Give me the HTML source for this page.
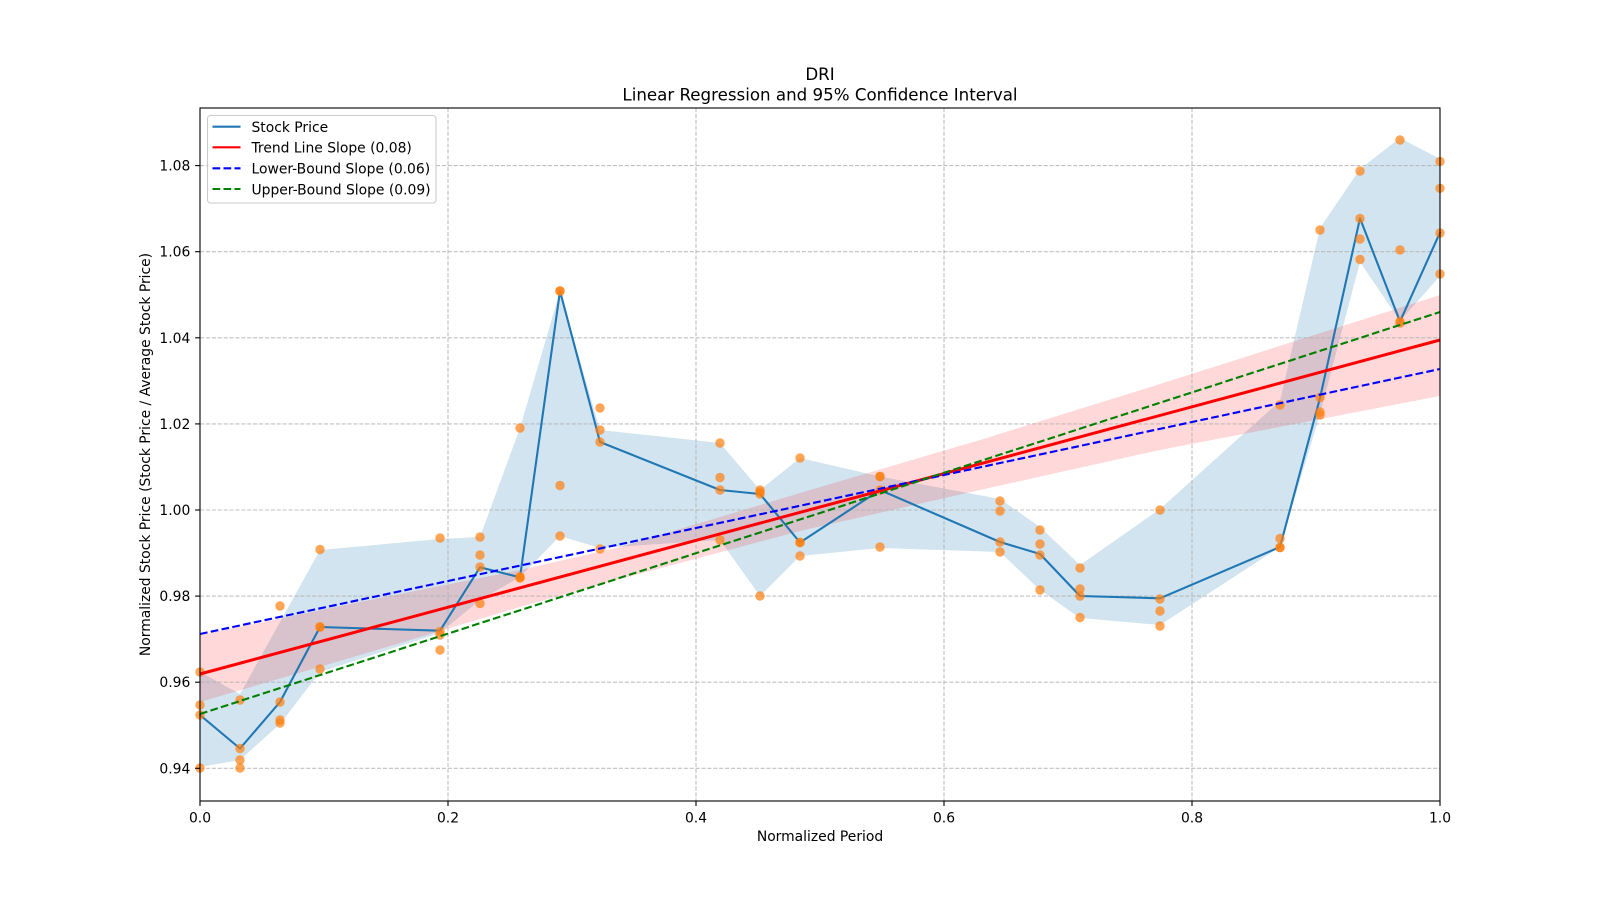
<!DOCTYPE html>
<html>
<head>
<meta charset="utf-8">
<style>
  html, body { margin: 0; padding: 0; background: #ffffff; }
  svg { display: block; }
  text { font-family: "DejaVu Sans", "Liberation Sans", sans-serif; fill: #000; }
</style>
</head>
<body>
<svg width="1600" height="900" viewBox="0 0 1600 900" xmlns="http://www.w3.org/2000/svg">
  <rect x="0" y="0" width="1600" height="900" fill="#ffffff"/>

  <!-- Stock price high/low band -->
  <polygon fill="#1f77b4" fill-opacity="0.2" points="
    200,672 240,694 280,622 320,550 440,539 480,537 520,428 560,291 600,430 720,443 760,490 800,458 880,476.5 1000,499 1040,527 1080,565 1160,509 1280,401 1320,228 1360,169 1400,138 1440,159
    1440,276 1400,321 1360,262 1320,414 1280,547 1160,625 1080,618 1040,590 1000,552 880,548 800,556 760,596 720,540 600,548 560,536 520,577 480,600 440,633 320,672 280,724 240,760 200,767"/>

  <!-- Regression confidence band -->
  <polygon fill="#ff0000" fill-opacity="0.15" points="
    200,635 360,602 520,570 616,548 680,529 800,493 980,440 1160,384 1440,295
    1440,396 1160,450 980,490 800,531 680,563 616,580 520,607 360,655 200,702"/>

  <!-- Grid -->
  <g stroke="#b0b0b0" stroke-opacity="0.8" stroke-width="1.1" stroke-dasharray="4.1,1.8" fill="none">
    <line x1="448" y1="108" x2="448" y2="801"/>
    <line x1="696" y1="108" x2="696" y2="801"/>
    <line x1="944" y1="108" x2="944" y2="801"/>
    <line x1="1192" y1="108" x2="1192" y2="801"/>
    <line x1="200" y1="768.3" x2="1440" y2="768.3"/>
    <line x1="200" y1="682.2" x2="1440" y2="682.2"/>
    <line x1="200" y1="596.1" x2="1440" y2="596.1"/>
    <line x1="200" y1="510" x2="1440" y2="510"/>
    <line x1="200" y1="423.9" x2="1440" y2="423.9"/>
    <line x1="200" y1="337.8" x2="1440" y2="337.8"/>
    <line x1="200" y1="251.7" x2="1440" y2="251.7"/>
    <line x1="200" y1="165.6" x2="1440" y2="165.6"/>
  </g>

  <!-- Stock price line -->
  <polyline fill="none" stroke="#1f77b4" stroke-width="2.1" stroke-linejoin="round" stroke-linecap="square" points="
    200,715 240,748.5 280,702 320,627 440,630.7 480,567.3 520,577.3 560,291 600,442 720,490 760,494 800,542.5 880,490 1000,542 1040,554 1080,596 1160,598.3 1280,547 1320,398 1360,218.3 1400,321.5 1440,232.5"/>

  <!-- Scatter points -->
  <g fill="#ff7f0e" fill-opacity="0.7">
    <circle cx="200" cy="672" r="4.7"/><circle cx="200" cy="705" r="4.7"/><circle cx="200" cy="715" r="4.7"/><circle cx="200" cy="768" r="4.7"/>
    <circle cx="240" cy="700" r="4.7"/><circle cx="240" cy="748.5" r="4.7"/><circle cx="240" cy="760" r="4.7"/><circle cx="240" cy="768" r="4.7"/>
    <circle cx="280" cy="606" r="4.7"/><circle cx="280" cy="702" r="4.7"/><circle cx="280" cy="720" r="4.7"/><circle cx="280" cy="723" r="4.7"/>
    <circle cx="320" cy="549.5" r="4.7"/><circle cx="320" cy="627" r="4.7"/><circle cx="320" cy="627" r="4.7"/><circle cx="320" cy="669" r="4.7"/>
    <circle cx="440" cy="538" r="4.7"/><circle cx="440" cy="631.5" r="4.7"/><circle cx="440" cy="635" r="4.7"/><circle cx="440" cy="650" r="4.7"/>
    <circle cx="480" cy="537" r="4.7"/><circle cx="480" cy="555" r="4.7"/><circle cx="480" cy="567" r="4.7"/><circle cx="480" cy="603.5" r="4.7"/>
    <circle cx="520" cy="428" r="4.7"/><circle cx="520" cy="577" r="4.7"/><circle cx="520" cy="577" r="4.7"/><circle cx="520" cy="578" r="4.7"/>
    <circle cx="560" cy="291" r="4.7"/><circle cx="560" cy="291" r="4.7"/><circle cx="560" cy="485.5" r="4.7"/><circle cx="560" cy="536" r="4.7"/>
    <circle cx="600" cy="408" r="4.7"/><circle cx="600" cy="430" r="4.7"/><circle cx="600" cy="442" r="4.7"/><circle cx="600" cy="549" r="4.7"/>
    <circle cx="720" cy="443" r="4.7"/><circle cx="720" cy="477.5" r="4.7"/><circle cx="720" cy="490" r="4.7"/><circle cx="720" cy="540" r="4.7"/>
    <circle cx="760" cy="490" r="4.7"/><circle cx="760" cy="492" r="4.7"/><circle cx="760" cy="494" r="4.7"/><circle cx="760" cy="596" r="4.7"/>
    <circle cx="800" cy="458" r="4.7"/><circle cx="800" cy="542.5" r="4.7"/><circle cx="800" cy="542.5" r="4.7"/><circle cx="800" cy="556" r="4.7"/>
    <circle cx="880" cy="476.5" r="4.7"/><circle cx="880" cy="476.5" r="4.7"/><circle cx="880" cy="490" r="4.7"/><circle cx="880" cy="547" r="4.7"/>
    <circle cx="1000" cy="501" r="4.7"/><circle cx="1000" cy="511" r="4.7"/><circle cx="1000" cy="542" r="4.7"/><circle cx="1000" cy="552" r="4.7"/>
    <circle cx="1040" cy="530" r="4.7"/><circle cx="1040" cy="544" r="4.7"/><circle cx="1040" cy="555" r="4.7"/><circle cx="1040" cy="590" r="4.7"/>
    <circle cx="1080" cy="568" r="4.7"/><circle cx="1080" cy="589" r="4.7"/><circle cx="1080" cy="596" r="4.7"/><circle cx="1080" cy="617.5" r="4.7"/>
    <circle cx="1160" cy="510" r="4.7"/><circle cx="1160" cy="599" r="4.7"/><circle cx="1160" cy="611" r="4.7"/><circle cx="1160" cy="626" r="4.7"/>
    <circle cx="1280" cy="405" r="4.7"/><circle cx="1280" cy="538.5" r="4.7"/><circle cx="1280" cy="547.5" r="4.7"/><circle cx="1280" cy="547.5" r="4.7"/>
    <circle cx="1320" cy="230" r="4.7"/><circle cx="1320" cy="397.5" r="4.7"/><circle cx="1320" cy="412" r="4.7"/><circle cx="1320" cy="415" r="4.7"/>
    <circle cx="1360" cy="171" r="4.7"/><circle cx="1360" cy="218.5" r="4.7"/><circle cx="1360" cy="239" r="4.7"/><circle cx="1360" cy="259.5" r="4.7"/>
    <circle cx="1400" cy="140" r="4.7"/><circle cx="1400" cy="250" r="4.7"/><circle cx="1400" cy="321.5" r="4.7"/><circle cx="1400" cy="323" r="4.7"/>
    <circle cx="1440" cy="161.5" r="4.7"/><circle cx="1440" cy="188.3" r="4.7"/><circle cx="1440" cy="233" r="4.7"/><circle cx="1440" cy="274" r="4.7"/>
  </g>

  <!-- Regression lines -->
  <line x1="200" y1="674" x2="1440" y2="340" stroke="#ff0000" stroke-width="3"/>
  <line x1="200" y1="634" x2="1440" y2="369" stroke="#0000ff" stroke-width="2.1" stroke-dasharray="7.7,3.3"/>
  <line x1="200" y1="714" x2="1440" y2="312" stroke="#008000" stroke-width="2.1" stroke-dasharray="7.7,3.3"/>

  <!-- Spines -->
  <rect x="200" y="108" width="1240" height="693" fill="none" stroke="#000" stroke-width="1.1"/>

  <!-- Y ticks -->
  <g stroke="#000" stroke-width="1.1">
    <line x1="195.1" y1="768.3" x2="200" y2="768.3"/>
    <line x1="195.1" y1="682.2" x2="200" y2="682.2"/>
    <line x1="195.1" y1="596.1" x2="200" y2="596.1"/>
    <line x1="195.1" y1="510" x2="200" y2="510"/>
    <line x1="195.1" y1="423.9" x2="200" y2="423.9"/>
    <line x1="195.1" y1="337.8" x2="200" y2="337.8"/>
    <line x1="195.1" y1="251.7" x2="200" y2="251.7"/>
    <line x1="195.1" y1="165.6" x2="200" y2="165.6"/>
    <line x1="200" y1="801" x2="200" y2="805.9"/>
    <line x1="448" y1="801" x2="448" y2="805.9"/>
    <line x1="696" y1="801" x2="696" y2="805.9"/>
    <line x1="944" y1="801" x2="944" y2="805.9"/>
    <line x1="1192" y1="801" x2="1192" y2="805.9"/>
    <line x1="1440" y1="801" x2="1440" y2="805.9"/>
  </g>
  <g font-size="13.89" text-anchor="end">
    <text x="190.3" y="773.3">0.94</text>
    <text x="190.3" y="687.2">0.96</text>
    <text x="190.3" y="601.1">0.98</text>
    <text x="190.3" y="515">1.00</text>
    <text x="190.3" y="428.9">1.02</text>
    <text x="190.3" y="342.8">1.04</text>
    <text x="190.3" y="256.7">1.06</text>
    <text x="190.3" y="170.6">1.08</text>
  </g>
  <g font-size="13.89" text-anchor="middle">
    <text x="200" y="822.3">0.0</text>
    <text x="448" y="822.3">0.2</text>
    <text x="696" y="822.3">0.4</text>
    <text x="944" y="822.3">0.6</text>
    <text x="1192" y="822.3">0.8</text>
    <text x="1440" y="822.3">1.0</text>
  </g>

  <!-- Axis labels -->
  <text x="820" y="841" font-size="13.89" text-anchor="middle">Normalized Period</text>
  <text transform="translate(150,454.5) rotate(-90)" x="0" y="0" font-size="13.89" text-anchor="middle">Normalized Stock Price (Stock Price / Average Stock Price)</text>

  <!-- Title -->
  <text x="820" y="80" font-size="16.67" text-anchor="middle">DRI</text>
  <text x="820" y="100.5" font-size="16.67" text-anchor="middle">Linear Regression and 95% Confidence Interval</text>

  <!-- Legend -->
  <rect x="207.5" y="115.5" width="228.5" height="87.5" rx="3" ry="3" fill="#ffffff" fill-opacity="0.8" stroke="#cccccc" stroke-width="1.1"/>
  <line x1="212.5" y1="126.7" x2="240.5" y2="126.7" stroke="#1f77b4" stroke-width="2.1"/>
  <line x1="212.5" y1="147.3" x2="240.5" y2="147.3" stroke="#ff0000" stroke-width="2.1"/>
  <line x1="212.5" y1="168.3" x2="240.5" y2="168.3" stroke="#0000ff" stroke-width="2.1" stroke-dasharray="7.7,3.3"/>
  <line x1="212.5" y1="189" x2="240.5" y2="189" stroke="#008000" stroke-width="2.1" stroke-dasharray="7.7,3.3"/>
  <g font-size="13.89">
    <text x="251.5" y="132">Stock Price</text>
    <text x="251.5" y="152.7">Trend Line Slope (0.08)</text>
    <text x="251.5" y="173.6">Lower-Bound Slope (0.06)</text>
    <text x="251.5" y="194.3">Upper-Bound Slope (0.09)</text>
  </g>
</svg>
</body>
</html>
